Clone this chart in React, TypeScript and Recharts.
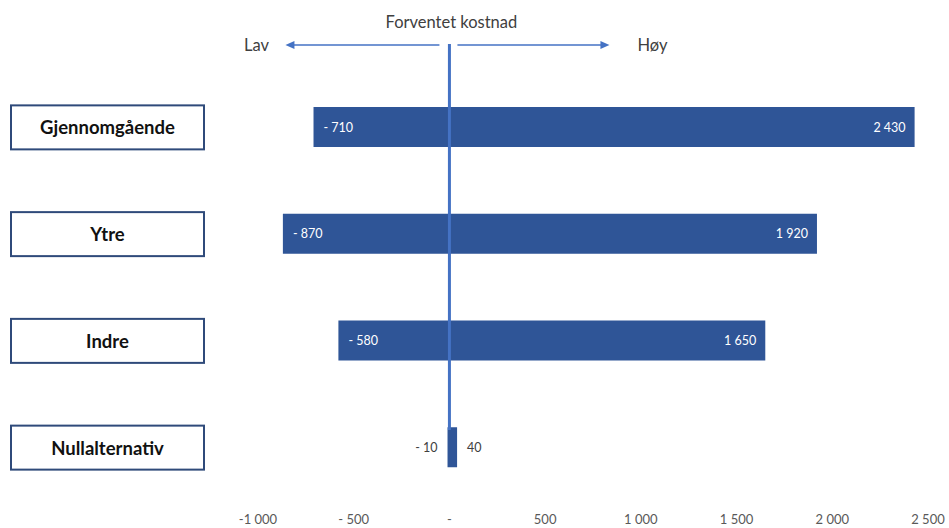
import * as React from 'react';
import { BarChart, Bar, XAxis, YAxis, ReferenceLine } from 'recharts';

const categories = ['Gjennomgående', 'Ytre', 'Indre', 'Nullalternativ'];
const lowValues = [-710, -870, -580, -10];
const highValues = [2430, 1920, 1650, 40];
const xTicks = [-1000, -500, 0, 500, 1000, 1500, 2000, 2500];
const xTickLabels = ['-1 000', '- 500', '-', '500', '1 000', '1 500', '2 000', '2 500'];

const FONT = 'Lato, "Noto Sans", sans-serif';
const BAR = '#2f5597';
const LINE = '#4472c4';

const data = categories.map((name, i) => ({ name, range: [lowValues[i], highValues[i]] }));

const fmt = (n: number) => {
  if (n === 0) return '-';
  const s = Math.abs(n).toString().replace(/\B(?=(\d{3})+(?!\d))/g, ' ');
  return n < 0 ? '- ' + s : s;
};

const CategoryBox = ({ y, payload }: any) => (
  <g>
    <rect x={11} y={y - 22} width={193} height={44} fill="#fff" stroke="#2f4a7a" strokeWidth={2} />
    <text x={107.5} y={y} textAnchor="middle" dominantBaseline="central"
      fontFamily={FONT} fontWeight={700} fontSize={18.5} fill="#111">
      {payload.value}
    </text>
  </g>
);

const BarLabels = (props: any) => {
  const { x, y, width, height, index } = props;
  const cy = y + height / 2;
  const lo = fmt(lowValues[index]);
  const hi = fmt(highValues[index]);
  if (width < 60) {
    return (
      <g fontFamily={FONT} fontSize={12.5} fill="#404040">
        <text x={x - 10} y={cy} textAnchor="end" dominantBaseline="central">{lo}</text>
        <text x={x + width + 10} y={cy} textAnchor="start" dominantBaseline="central">{hi}</text>
      </g>
    );
  }
  return (
    <g fontFamily={FONT} fontSize={12.5} fill="#fff">
      <text x={x + 10} y={cy} textAnchor="start" dominantBaseline="central">{lo}</text>
      <text x={x + width - 9} y={cy} textAnchor="end" dominantBaseline="central">{hi}</text>
    </g>
  );
};

const CenterLine = (props: any) => {
  const x = props.x1;
  return (
    <g>
      <line x1={x} x2={x} y1={44} y2={430} stroke={LINE} strokeWidth={3} />
      <line x1={x - 10} x2={x - 156} y1={45} y2={45} stroke={LINE} strokeWidth={1.5} />
      <polygon points={`${x - 164},45 ${x - 155},41 ${x - 155},49`} fill={LINE} />
      <line x1={x + 8} x2={x + 152} y1={45} y2={45} stroke={LINE} strokeWidth={1.5} />
      <polygon points={`${x + 160},45 ${x + 151},41 ${x + 151},49`} fill={LINE} />
      <g fontFamily={FONT} fontSize={16.5} fill="#404040">
        <text x={x + 2} y={22} textAnchor="middle" dominantBaseline="central">Forventet kostnad</text>
        <text x={x - 193} y={45} textAnchor="middle" dominantBaseline="central">Lav</text>
        <text x={x + 203} y={45} textAnchor="middle" dominantBaseline="central">Høy</text>
      </g>
    </g>
  );
};

export default function App() {
  return (
    <div style={{ position: 'absolute', left: 0, top: 0, width: 949, height: 528, background: '#fff' }}>
      <BarChart
        width={949}
        height={528}
        data={data}
        layout="vertical"
        margin={{ top: 74, right: 21, left: 0, bottom: 0 }}
      >
        <XAxis
          type="number"
          domain={[-1000, 2500]}
          ticks={xTicks}
          tickFormatter={(v: number) => xTickLabels[xTicks.indexOf(v)]}
          axisLine={false}
          tickLine={false}
          tickMargin={8}
          height={27}
          tick={{ fontFamily: FONT, fontSize: 13, fill: '#595959' }}
        />
        <YAxis
          type="category"
          dataKey="name"
          width={258}
          axisLine={false}
          tickLine={false}
          tick={<CategoryBox />}
        />
        <Bar dataKey="range" fill={BAR} barSize={40} isAnimationActive={false} label={<BarLabels />} />
        <ReferenceLine x={0} shape={<CenterLine />} />
      </BarChart>
    </div>
  );
}
